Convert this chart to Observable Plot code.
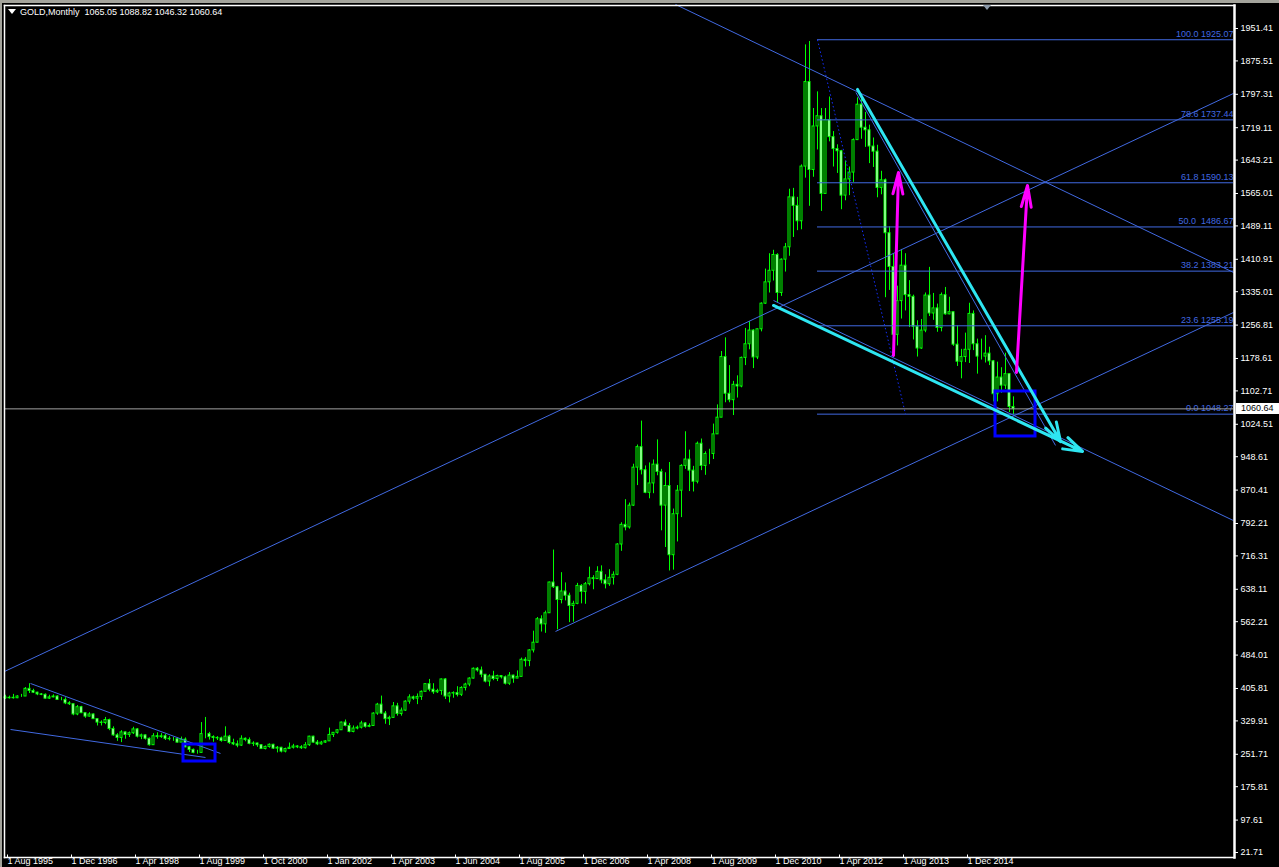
<!DOCTYPE html>
<html><head><meta charset="utf-8">
<script src="https://cdn.jsdelivr.net/npm/d3@7"></script>
<script src="https://cdn.jsdelivr.net/npm/@observablehq/plot@0.6"></script>
<style>
html,body{margin:0;padding:0;background:#000;width:1279px;height:867px;overflow:hidden}
#wrap{position:relative;width:1279px;height:867px;background:#000;overflow:hidden}
#wrap svg{position:absolute;left:0;top:0}
.band{position:absolute;background:#a4a49c}
#title{position:absolute;left:8px;top:6px;color:#fff;font:9px 'Liberation Sans',Arial,sans-serif;white-space:pre;line-height:12px}
#tri{display:inline-block;width:0;height:0;border-left:4px solid transparent;border-right:4px solid transparent;border-top:5px solid #fff;margin-right:4px;vertical-align:1px}
#shift{position:absolute;left:983px;top:5px;width:0;height:0;border-left:4.5px solid transparent;border-right:4.5px solid transparent;border-top:5px solid #8a98a8}
#pbox{position:absolute;left:1236px;width:43px;height:11px;background:#fff;color:#000;font:9px 'Liberation Sans',Arial,sans-serif;line-height:11px;padding-left:5px;box-sizing:border-box}
</style></head><body><div id="wrap"></div>
<script>
// ---- data (monthly bars, bar index = position on the chart) ----
const opens = [
385,383,384,383,387,
387,405,400,396,392,391,382,385,387,379,379,371,
369,345,362,348,340,345,334,326,325,332,311,296,
290,303,297,301,310,293,296,288,273,294,292,294,
288,287,287,279,286,268,262,255,255,299,299,292,290,
289,283,293,278,275,272,288,285,276,277,273,264,269,
274,265,267,258,264,267,270,268,266,273,293,279,275,
279,282,297,302,308,326,318,304,312,314,324,316,318,
347,368,347,334,337,364,346,354,375,385,382,386,398,
416,403,397,400,427,387,394,395,391,407,415,429,452,448,
438,422,434,428,435,432,417,436,429,433,473,470,495,
513,568,556,582,654,643,613,633,623,599,604,646,
632,650,664,662,679,659,650,665,672,743,789,783,
834,923,971,917,864,886,930,913,834,880,718,814,
869,927,942,916,890,979,927,955,955,1001,1040,1182,
1096,1081,1117,1113,1180,1212,1244,1181,1247,1307,1357,1384,
1421,1332,1410,1439,1556,1536,1500,1628,1826,1620,1722,1746,
1564,1737,1697,1669,1664,1560,1598,1614,1690,1773,1719,1713,
1675,1663,1578,1596,1472,1393,1234,1313,1396,1327,1323,1253,
1202,1244,1326,1284,1296,1250,1327,1282,1287,1211,1171,1182,
1199,1283,1212,1183,1183,1190,1172,1095,1134,1115,1142,1065.05];
const highs = [
390,388,392,389,392,
408,417,404,397,394,393,390,391,389,385,384,375,
369,366,364,348,349,346,335,330,338,334,316,300,
307,304,304,315,312,299,297,290,300,302,300,298,
293,291,290,292,290,270,264,261,326,338,303,295,293,
292,316,296,287,283,295,290,290,281,278,274,271,276,
275,270,268,266,278,275,272,272,279,294,294,284,282,
284,313,302,309,327,332,324,318,318,329,326,323,349,
371,388,352,341,373,371,360,377,391,388,393,400,417,
427,417,404,428,429,397,398,410,410,418,431,454,455,456,
438,438,446,437,436,435,443,437,447,477,478,497,540,
572,576,587,655,730,645,677,653,629,610,652,649,
654,690,670,691,693,672,684,679,745,794,848,840,
931,976,1032,927,934,941,988,919,911,935,826,881,
930,1007,964,926,983,990,960,966,1025,1070,1195,1227,
1162,1125,1138,1182,1249,1265,1246,1248,1309,1388,1424,1432,
1424,1412,1448,1575,1577,1556,1632,1913,1921,1764,1803,1764,
1764,1791,1710,1679,1666,1641,1627,1693,1789,1796,1755,1725,
1695,1678,1617,1599,1487,1424,1348,1434,1424,1361,1327,1267,
1270,1332,1392,1331,1306,1332,1345,1322,1287,1255,1200,1238,
1308,1290,1224,1224,1232,1205,1174,1170,1157,1191,1143,1088.82];
const lows = [
380,381,381,382,385,
387,394,394,389,389,381,380,384,378,377,368,366,
342,342,347,336,339,334,318,318,321,307,294,282,
279,287,291,298,290,286,285,271,273,287,289,284,
283,282,278,279,267,256,253,252,254,288,285,280,284,
280,282,275,272,267,270,281,274,270,268,263,262,266,
263,255,255,255,263,264,265,263,264,270,278,272,273,
277,282,291,299,308,316,302,302,309,311,313,314,317,
343,345,322,319,336,341,341,352,369,378,368,378,398,
398,392,394,390,380,372,383,386,387,400,410,428,444,431,
419,410,424,422,428,414,413,418,429,433,456,457,489,
513,538,535,582,640,543,604,611,560,561,602,604,
603,646,637,661,651,639,645,648,670,727,775,779,
832,881,906,862,850,862,904,775,736,681,683,749,
806,919,867,866,885,916,905,930,942,1001,1040,1075,
1075,1045,1086,1110,1162,1199,1155,1176,1241,1305,1332,1360,
1309,1324,1381,1418,1462,1478,1480,1601,1535,1603,1667,1523,
1564,1686,1627,1612,1527,1548,1560,1591,1689,1692,1673,1635,
1626,1555,1562,1321,1338,1180,1208,1271,1290,1251,1222,1182,
1200,1239,1277,1268,1240,1241,1280,1281,1207,1160,1131,1169,
1167,1197,1142,1175,1168,1162,1077,1077,1097,1106,1052,1046.32];
const closes = [
383,384,383,387,387,
405,400,396,392,391,382,385,387,379,379,371,369,
345,362,348,340,345,334,326,325,332,311,296,290,
303,297,301,310,293,296,288,273,294,292,294,288,
287,287,279,286,268,262,255,255,299,299,292,290,289,
283,293,278,275,272,288,285,276,277,273,264,269,274,
265,267,258,264,267,270,268,266,273,293,279,275,279,
282,297,302,308,326,318,304,312,314,324,316,318,347,
368,347,334,337,364,346,354,375,385,382,386,398,416,
403,397,400,427,387,394,395,391,407,415,429,452,448,438,
422,434,428,435,432,417,436,429,433,473,470,495,513,
568,556,582,654,643,613,633,623,599,604,646,632,
650,664,662,679,659,650,665,672,743,789,783,834,
923,971,917,864,886,930,913,834,880,718,814,869,
927,942,916,890,979,927,955,955,1001,1040,1182,1096,
1081,1117,1113,1180,1212,1244,1181,1247,1307,1357,1384,1421,
1332,1410,1439,1556,1536,1500,1628,1826,1620,1722,1746,1564,
1737,1697,1669,1664,1560,1598,1614,1690,1773,1719,1713,1675,
1663,1578,1596,1472,1393,1234,1313,1396,1327,1323,1253,1202,
1244,1326,1284,1296,1250,1327,1282,1287,1211,1171,1182,1199,
1283,1212,1183,1183,1190,1172,1095,1134,1115,1142,1065.05,1060.64];

const dateLabels = ["1 Aug 1995","1 Dec 1996","1 Apr 1998","1 Aug 1999","1 Oct 2000","1 Jan 2002","1 Apr 2003","1 Jun 2004","1 Aug 2005","1 Dec 2006","1 Apr 2008","1 Aug 2009","1 Dec 2010","1 Apr 2012","1 Aug 2013","1 Dec 2014"];
const dateBars = [0,16,32,48,64,80,96,112,128,144,160,176,192,208,224,240];
const priceTicks = [1951.41,1875.51,1797.31,1719.11,1643.21,1565.01,1489.11,1410.91,1335.01,1256.81,1178.61,1102.71,1024.51,948.61,870.41,792.21,716.31,638.11,562.21,484.01,405.81,329.91,251.71,175.81,97.61,21.71];

const fibPrices = [1925.07,1737.44,1590.13,1486.67,1383.21,1255.19,1048.27];
const fibLabels = ["100.0 1925.07","78.6 1737.44","61.8 1590.13","50.0  1486.67","38.2 1383.21","23.6 1255.19","0.0 1048.27"];
const fibFromBar = 203, rightBar = 307;
const bidPrice = 1060.64;

// drawn objects, in (bar, price) units
const blueLines = [
  {x1:-0.25, y1:445.6, x2:307, y2:1799.3},   // upper channel
  {x1:137.5, y1:539.3, x2:307, y2:1286.4},   // lower channel
  {x1:167.5, y1:2007.7, x2:307, y2:1380.1},  // descending resistance
  {x1:192, y1:1314.5, x2:307, y2:799.0},     // descending support
  {x1:212.6, y1:1801.7, x2:262.5, y2:975.0}, // thin line by cyan
  {x1:6.25, y1:417.5, x2:53.75, y2:253.6},   // 1996-99 wedge top
  {x1:1.25, y1:309.8, x2:50, y2:244.2}       // 1996-99 wedge bottom
];
const fibDiag = [{x1:203, y1:1925.07, x2:225, y2:1048.27}];
const cyanArrows = [
  {x1:213, y1:1808.7, x2:263.75, y2:984.0},
  {x1:192, y1:1302.8, x2:269.25, y2:961.0}
];
const magentaArrows = [
  {x1:222, y1:1185.7, x2:223.25, y2:1614.3},
  {x1:252.75, y1:1145.9, x2:255.5, y2:1583.8}
];
const boxes = [
  {x1:247.5, x2:257.5, y1:996.0, y2:1101.4},
  {x1:44.5, x2:52.5, y1:234.8, y2:274.6}
];

// ---- build ----
const bars = closes.map((c,i)=>({i, o:opens[i], h:highs[i], l:lows[i], c, bull:c>=opens[i]}));
const fibs = fibPrices.map((p,k)=>({p, label:fibLabels[k], x1:fibFromBar, x2:rightBar}));
const BLUE = "#4169E1", LIME = "#00ff00";
const font = "'Liberation Sans', Arial, sans-serif";

const chart = Plot.plot({
  width:1279, height:867,
  marginTop:5, marginLeft:4, marginRight:45, marginBottom:10,
  style:{background:"#000", color:"#fff", fontFamily:font, fontSize:"9px", overflow:"visible"},
  x:{type:"linear", domain:[0,252], range:[5,1013], axis:null},
  y:{type:"linear", domain:[21.71,1951.41], range:[852,28], axis:null},
  marks:[
    Plot.ruleX(bars, {x:"i", y1:"l", y2:"h", stroke:LIME, strokeWidth:1}),
    Plot.rect(bars, {x1:d=>d.i-0.25, x2:d=>d.i+0.25, y1:"o", y2:"c", fill:d=>d.bull?"#000":"#fff", stroke:LIME, strokeWidth:1}),
    Plot.ruleY(fibs, {y:"p", x1:"x1", x2:"x2", stroke:BLUE, strokeWidth:1}),
    Plot.text(fibs, {x:"x2", y:"p", text:"label", textAnchor:"end", dy:-6, fill:BLUE, fontSize:9}),
    Plot.link(fibDiag, {x1:"x1", y1:"y1", x2:"x2", y2:"y2", stroke:"#1530ff", strokeDasharray:"1.5,2.5", strokeWidth:1}),
    Plot.link(blueLines, {x1:"x1", y1:"y1", x2:"x2", y2:"y2", stroke:BLUE, strokeWidth:1}),
    Plot.ruleY([bidPrice], {x1:-0.25, x2:rightBar, stroke:"#a0a0a0", strokeWidth:1}),
    Plot.rect(boxes, {x1:"x1", x2:"x2", y1:"y1", y2:"y2", fill:"none", stroke:"#0000ff", strokeWidth:3}),
    Plot.arrow(cyanArrows, {x1:"x1", y1:"y1", x2:"x2", y2:"y2", stroke:"#2ee6f2", strokeWidth:3, headLength:10, headAngle:36}),
    Plot.arrow(magentaArrows, {x1:"x1", y1:"y1", x2:"x2", y2:"y2", stroke:"#ff00ff", strokeWidth:3, headLength:11, headAngle:26}),
    Plot.axisY(priceTicks, {anchor:"right", tickFormat:d=>d.toFixed(2), tickSize:3, tickPadding:3, stroke:"#fff", fill:"#fff", fontSize:9}),
    Plot.axisX(dateBars, {anchor:"bottom", tickFormat:d=>dateLabels[dateBars.indexOf(d)], tickSize:3, tickPadding:0, textAnchor:"start", dx:2, dy:-2.5, stroke:"#fff", fill:"#fff", fontSize:9}),
    Plot.frame({anchor:"right", stroke:"#fff", strokeWidth:2.5}),
    Plot.frame({anchor:"bottom", stroke:"#fff", strokeWidth:1.5}),
    Plot.frame({anchor:"top", stroke:"#fff", strokeWidth:1.5}),
    Plot.frame({anchor:"left", stroke:"#fff", strokeWidth:1.5})
  ]
});
const wrap = document.getElementById("wrap");
wrap.appendChild(chart);

// window bands, title, chart-shift marker, bid price box
const bandTop = document.createElement("div"); bandTop.className="band"; bandTop.style.cssText="left:0;top:0;width:1279px;height:3px"; wrap.appendChild(bandTop);
const bandLeft = document.createElement("div"); bandLeft.className="band"; bandLeft.style.cssText="left:0;top:0;width:2px;height:867px"; wrap.appendChild(bandLeft);
const titleEl = document.createElement("div"); titleEl.id="title";
titleEl.innerHTML = '<span id="tri"></span>GOLD,Monthly  ' + [opens[252],highs[252],lows[252],closes[252]].map(v=>v.toFixed(2)).join(" ");
wrap.appendChild(titleEl);
const shiftEl = document.createElement("div"); shiftEl.id="shift"; wrap.appendChild(shiftEl);
const pboxEl = document.createElement("div"); pboxEl.id="pbox"; pboxEl.textContent = bidPrice.toFixed(2);
pboxEl.style.top = (chart.scale("y").apply(bidPrice) - 5.5) + "px";
wrap.appendChild(pboxEl);
</script>
</body></html>
